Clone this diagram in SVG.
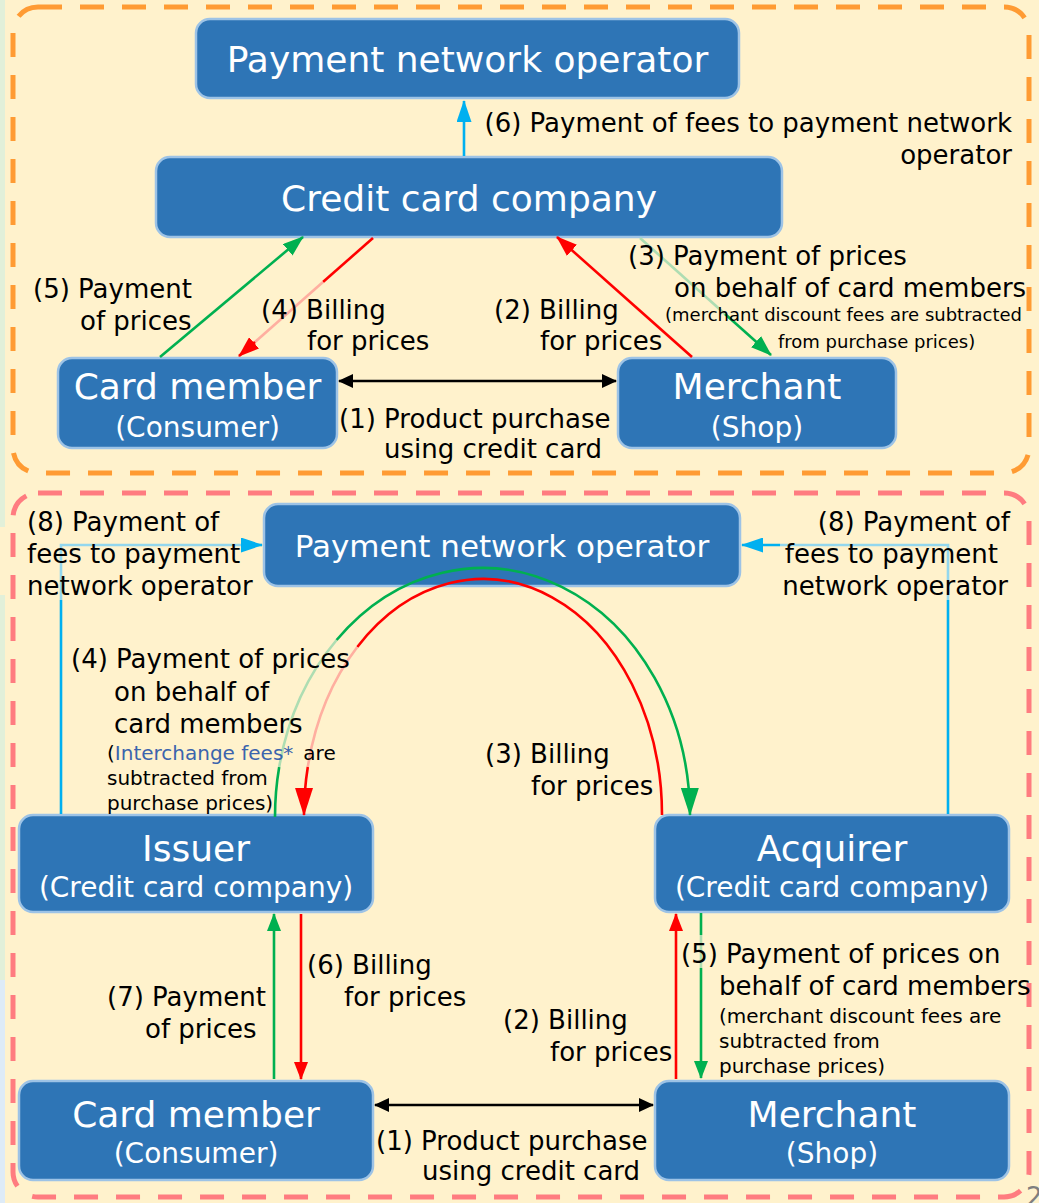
<svg xmlns="http://www.w3.org/2000/svg" width="1039" height="1203" viewBox="0 0 1039 1203">
<style>
.node{fill:#2E75B6;stroke:#9DC3E6;stroke-width:2.5}
.nt{font-family:"DejaVu Sans",Verdana,sans-serif;fill:#fff;text-anchor:middle}
.big{font-size:36px}
.sub{font-size:28px}
.lb{font-family:"DejaVu Sans",Verdana,sans-serif;font-size:26px;fill:#000}
.sm{font-family:"DejaVu Sans",Verdana,sans-serif;font-size:18px;fill:#000}
.sm2{font-family:"DejaVu Sans",Verdana,sans-serif;font-size:20px;fill:#000}
.c{fill:none;stroke-width:2.6}
.g{stroke:#00B050}.gl{stroke:#AEDDB2}
.r{stroke:#FF0000}.rl{stroke:#FFAFA0}
.b{stroke:#00B0F0}.bl{stroke:#93D7EE}
.k{stroke:#000}
</style>
<defs>
<marker id="aG" markerUnits="userSpaceOnUse" markerWidth="28" markerHeight="18" refX="27" refY="9" orient="auto"><path d="M0,0 L28,9 L0,18 z" fill="#00B050"/></marker>
<marker id="aR" markerUnits="userSpaceOnUse" markerWidth="28" markerHeight="18" refX="27" refY="9" orient="auto"><path d="M0,0 L28,9 L0,18 z" fill="#FF0000"/></marker>
<marker id="sG" markerUnits="userSpaceOnUse" markerWidth="18" markerHeight="14" refX="17" refY="7" orient="auto"><path d="M0,0 L18,7 L0,14 z" fill="#00B050"/></marker>
<marker id="sR" markerUnits="userSpaceOnUse" markerWidth="18" markerHeight="14" refX="17" refY="7" orient="auto"><path d="M0,0 L18,7 L0,14 z" fill="#FF0000"/></marker>
<marker id="dG" markerUnits="userSpaceOnUse" markerWidth="21" markerHeight="15" refX="20" refY="7.5" orient="auto"><path d="M0,0 L21,7.5 L0,15 z" fill="#00B050"/></marker>
<marker id="dR" markerUnits="userSpaceOnUse" markerWidth="21" markerHeight="15" refX="20" refY="7.5" orient="auto"><path d="M0,0 L21,7.5 L0,15 z" fill="#FF0000"/></marker>
<marker id="aB" markerUnits="userSpaceOnUse" markerWidth="22" markerHeight="15" refX="21" refY="7.5" orient="auto"><path d="M0,0 L22,7.5 L0,15 z" fill="#00B0F0"/></marker>
<marker id="aK" markerUnits="userSpaceOnUse" markerWidth="15" markerHeight="14" refX="14" refY="7" orient="auto-start-reverse"><path d="M0,0 L15,7 L0,14 z" fill="#000"/></marker>
</defs>

<!-- background -->
<rect x="0" y="0" width="1039" height="1203" fill="#FFF2CC"/>
<rect x="0" y="0" width="5" height="527" fill="#E2F0D9"/>
<rect x="0" y="595" width="5" height="385" fill="#E2F0D9"/>
<rect x="0" y="980" width="5" height="223" fill="#DEEBF7"/>

<!-- frames -->
<rect x="13" y="7" width="1016" height="466" rx="25" fill="none" stroke="#FF9B33" stroke-width="5" stroke-dasharray="24 18"/>
<rect x="13" y="493" width="1016" height="704" rx="25" fill="none" stroke="#FF7C80" stroke-width="5" stroke-dasharray="24 18"/>

<!-- nodes top -->
<g id="pno-top">
  <rect class="node" x="196" y="19" width="543" height="79" rx="14"/>
  <text class="nt big" x="467.5" y="72">Payment network operator</text>
</g>
<g id="ccc-top">
  <rect class="node" x="156" y="157" width="626" height="80" rx="14"/>
  <text class="nt big" x="469" y="211">Credit card company</text>
</g>
<g id="member-top">
  <rect class="node" x="58" y="358" width="279" height="90" rx="14"/>
  <text class="nt big" x="197.5" y="399">Card member</text>
  <text class="nt sub" x="197.5" y="437">(Consumer)</text>
</g>
<g id="merchant-top">
  <rect class="node" x="618" y="358" width="278" height="90" rx="14"/>
  <text class="nt big" x="757" y="399">Merchant</text>
  <text class="nt sub" x="757" y="437">(Shop)</text>
</g>

<!-- nodes bottom -->
<g id="pno-bottom">
  <rect class="node" x="264" y="504" width="476" height="82" rx="14"/>
  <text class="nt" font-size="31" x="502" y="557">Payment network operator</text>
</g>
<g id="issuer">
  <rect class="node" x="19" y="815" width="354" height="97" rx="14"/>
  <text class="nt big" x="196" y="861">Issuer</text>
  <text class="nt sub" x="196" y="897">(Credit card company)</text>
</g>
<g id="acquirer">
  <rect class="node" x="655" y="815" width="354" height="97" rx="14"/>
  <text class="nt big" x="832" y="861">Acquirer</text>
  <text class="nt sub" x="832" y="897">(Credit card company)</text>
</g>
<g id="member-bottom">
  <rect class="node" x="19" y="1081" width="354" height="99" rx="14"/>
  <text class="nt big" x="196" y="1127">Card member</text>
  <text class="nt sub" x="196" y="1163">(Consumer)</text>
</g>
<g id="merchant-bottom">
  <rect class="node" x="655" y="1081" width="354" height="99" rx="14"/>
  <text class="nt big" x="832" y="1127">Merchant</text>
  <text class="nt sub" x="832" y="1163">(Shop)</text>
</g>

<!-- connectors -->
<g id="connectors">
  <!-- top section -->
  <path class="c b" d="M464,156 L464,101" marker-end="url(#aB)"/>
  <path class="c g" d="M160,357 L303,237" marker-end="url(#dG)"/>
  <path class="c r" d="M373,238 L323,282"/>
  <path class="c rl" d="M323,282 L255,342"/>
  <path class="c r" d="M255,342 L239,356" marker-end="url(#dR)"/>
  <path class="c r" d="M692,357 L557,237" marker-end="url(#dR)"/>
  <path class="c gl" d="M640,238 L725,314"/>
  <path class="c g" d="M725,314 L771,355" marker-end="url(#dG)"/>
  <path class="c k" d="M339,381 L616,381" marker-start="url(#aK)" marker-end="url(#aK)"/>

  <!-- bottom section -->
  <path class="c b" d="M61,814 L61,600"/>
  <path class="c bl" d="M61,600 L61,545 L245,545"/>
  <path class="c b" d="M245,545 L262,545" marker-end="url(#aB)"/>
  <path class="c b" d="M948,814 L948,600"/>
  <path class="c bl" d="M948,600 L948,545 L780,545"/>
  <path class="c b" d="M780,545 L742,545" marker-end="url(#aB)"/>

  <!-- (4) green arc issuer -> acquirer -->
  <path class="c g" d="M275,817 A207.5,249 0 0 1 279.2,767"/>
  <path class="c gl" d="M279.2,767 A207.5,249 0 0 1 336.6,640"/>
  <path class="c g" d="M336.6,640 A207.5,249 0 0 1 690,815" marker-end="url(#aG)"/>
  <!-- (3) red arc acquirer -> issuer -->
  <path class="c r" d="M662,815 A179,236 0 0 0 357.3,647"/>
  <path class="c rl" d="M357.3,647 A179,236 0 0 0 307.8,767"/>
  <path class="c r" d="M307.8,767 A179,236 0 0 0 304,815" marker-end="url(#aR)"/>

  <path class="c g" d="M274,1079 L274,914" marker-end="url(#sG)"/>
  <path class="c r" d="M301,914 L301,1079" marker-end="url(#sR)"/>
  <path class="c r" d="M676,1079 L676,914" marker-end="url(#sR)"/>
  <path class="c g" d="M701,913 L701,935"/>
  <path class="c gl" d="M701,935 L701,968"/>
  <path class="c g" d="M701,968 L701,1078" marker-end="url(#sG)"/>
  <path class="c k" d="M375,1105 L653,1105" marker-start="url(#aK)" marker-end="url(#aK)"/>
</g>

<!-- labels -->
<g id="labels">
  <text class="lb" x="1012" y="132" text-anchor="end">(6) Payment of fees to payment network</text>
  <text class="lb" x="1012" y="164" text-anchor="end">operator</text>
  <text class="lb" x="33" y="298">(5) Payment</text>
  <text class="lb" x="80" y="330">of prices</text>
  <text class="lb" x="261" y="319">(4) Billing</text>
  <text class="lb" x="307" y="350">for prices</text>
  <text class="lb" x="494" y="319">(2) Billing</text>
  <text class="lb" x="540" y="350">for prices</text>
  <text class="lb" x="628" y="265">(3) Payment of prices</text>
  <text class="lb" x="674" y="297">on behalf of card members</text>
  <text class="sm" x="665" y="321">(merchant discount fees are subtracted</text>
  <text class="sm" x="778" y="348">from purchase prices)</text>
  <text class="lb" x="339" y="428">(1) Product purchase</text>
  <text class="lb" x="384" y="458">using credit card</text>

  <text class="lb" x="27" y="531">(8) Payment of</text>
  <text class="lb" x="27" y="563">fees to payment</text>
  <text class="lb" x="27" y="595">network operator</text>
  <text class="lb" x="1010" y="531" text-anchor="end">(8) Payment of</text>
  <text class="lb" x="998" y="563" text-anchor="end">fees to payment</text>
  <text class="lb" x="1008" y="595" text-anchor="end">network operator</text>

  <text class="lb" x="71" y="668">(4) Payment of prices</text>
  <text class="lb" x="114" y="701">on behalf of</text>
  <text class="lb" x="114" y="733">card members</text>
  <text class="sm2" x="107" y="760">(<tspan fill="#3B64AD">Interchange fees*</tspan><tspan dx="10">are</tspan></text>
  <text class="sm2" x="107" y="785">subtracted from</text>
  <text class="sm2" x="107" y="810">purchase prices)</text>

  <text class="lb" x="485" y="763">(3) Billing</text>
  <text class="lb" x="531" y="795">for prices</text>
  <text class="lb" x="307" y="974">(6) Billing</text>
  <text class="lb" x="344" y="1006">for prices</text>
  <text class="lb" x="107" y="1006">(7) Payment</text>
  <text class="lb" x="145" y="1038">of prices</text>
  <text class="lb" x="503" y="1029">(2) Billing</text>
  <text class="lb" x="550" y="1061">for prices</text>
  <text class="lb" x="681" y="963">(5) Payment of prices on</text>
  <text class="lb" x="719" y="995">behalf of card members</text>
  <text class="sm2" x="719" y="1023">(merchant discount fees are</text>
  <text class="sm2" x="719" y="1048">subtracted from</text>
  <text class="sm2" x="719" y="1073">purchase prices)</text>
  <text class="lb" x="376" y="1150">(1) Product purchase</text>
  <text class="lb" x="422" y="1180">using credit card</text>
</g>
<text x="1026" y="1206" font-family="DejaVu Sans,sans-serif" font-size="26" fill="#7F7F7F">2</text>
</svg>
